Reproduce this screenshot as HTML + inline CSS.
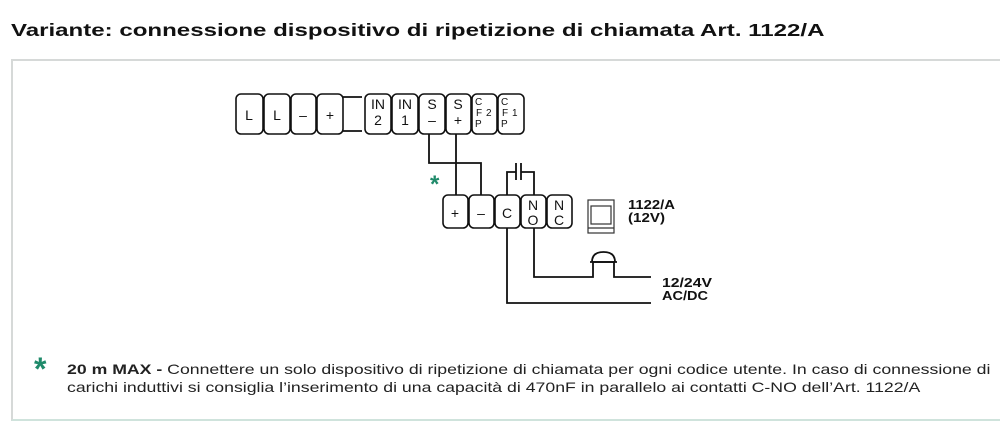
<!DOCTYPE html>
<html><head><meta charset="utf-8"><style>
body{margin:0;background:#fff;width:1000px;height:421px;overflow:hidden;position:relative;font-family:"Liberation Sans",Arial,sans-serif}
.t{position:absolute;left:11px;top:20px;font-size:17.5px;font-weight:bold;color:#111;white-space:nowrap;transform:scaleX(1.375);transform-origin:0 0}
.box{position:absolute;left:11px;top:59px;width:1000px;height:358px;border:2px solid #d6d9d8;border-right:none;border-bottom-color:#cfe3dc}
.ft{position:absolute;left:67px;top:361px;font-size:13.6px;color:#222;line-height:18px;white-space:nowrap;transform:scaleX(1.3);transform-origin:0 0}
.star{position:absolute;left:34px;top:351px;color:#1f8a6a;font-size:32px;font-weight:bold}
</style></head><body>
<div class="t">Variante: connessione dispositivo di ripetizione di chiamata Art. 1122/A</div>
<div class="box"></div>
<svg width="1000" height="421" style="position:absolute;left:0;top:0" font-family="Liberation Sans, Arial, sans-serif">
<g fill="#fff" stroke="#111" stroke-width="1.6">
<rect x="236" y="94" width="27" height="40" rx="5"/><rect x="264" y="94" width="26" height="40" rx="5"/>
<rect x="291" y="94" width="25" height="40" rx="5"/><rect x="317" y="94" width="26" height="40" rx="5"/>
<rect x="365" y="94" width="26" height="40" rx="5"/><rect x="392" y="94" width="26" height="40" rx="5"/>
<rect x="419" y="94" width="26" height="40" rx="5"/><rect x="446" y="94" width="25" height="40" rx="5"/>
<rect x="472" y="94" width="25" height="40" rx="5"/><rect x="498" y="94" width="26" height="40" rx="5"/>
<rect x="443" y="195" width="25" height="33" rx="5"/><rect x="469" y="195" width="25" height="33" rx="5"/>
<rect x="495" y="195" width="25" height="33" rx="5"/><rect x="521" y="195" width="25" height="33" rx="5"/>
<rect x="547" y="195" width="25" height="33" rx="5"/>
</g>
<g fill="none" stroke="#111" stroke-width="1.8">
<path d="M343 97H362M343 131H362"/>
<path d="M429 134V163H481V195M456 134V195"/>
<path d="M507 195V172H516M521 172H534V195M516 163V180M521 163V180"/>
<path d="M507 228V303H651M534 228V277H593V262H614V277H651"/>
<path d="M590 262H617M592 262Q592 252 603.5 252Q615 252 615 262"/>
</g>
<g fill="none" stroke="#333" stroke-width="1.2">
<rect x="588" y="200" width="26" height="33"/><rect x="591" y="206" width="20" height="18"/><path d="M588 228H614"/>
</g>
<g fill="#111" font-size="14" text-anchor="middle">
<text x="249" y="120">L</text><text x="277" y="120">L</text><text x="303" y="120">–</text><text x="330" y="120">+</text>
<text x="378" y="109">IN</text><text x="378" y="125">2</text><text x="405" y="109">IN</text><text x="405" y="125">1</text>
<text x="432" y="109">S</text><text x="432" y="125">–</text><text x="458" y="109">S</text><text x="458" y="125">+</text>
<text x="455" y="218">+</text><text x="481" y="218">–</text><text x="507" y="218">C</text>
<text x="533" y="210">N</text><text x="533" y="225">O</text><text x="559" y="210">N</text><text x="559" y="225">C</text>
</g>
<g fill="#111" font-size="10">
<text x="475" y="105">C</text><text x="476" y="116">F</text><text x="475" y="127">P</text><text x="486" y="116">2</text>
<text x="501" y="105">C</text><text x="502" y="116">F</text><text x="501" y="127">P</text><text x="512" y="116">1</text>
</g>
<text x="430" y="192" fill="#1f8a6a" font-size="24" font-weight="bold">*</text>
<g fill="#111" font-size="12.5" font-weight="bold">
<text x="628" y="209" textLength="47" lengthAdjust="spacingAndGlyphs">1122/A</text><text x="628" y="222" textLength="37" lengthAdjust="spacingAndGlyphs">(12V)</text>
<text x="662" y="287" textLength="50" lengthAdjust="spacingAndGlyphs">12/24V</text><text x="662" y="300" textLength="46" lengthAdjust="spacingAndGlyphs">AC/DC</text>
</g>
</svg>
<div class="star">*</div>
<div class="ft"><b>20 m MAX -</b> Connettere un solo dispositivo di ripetizione di chiamata per ogni codice utente. In caso di connessione di<br>carichi induttivi si consiglia l’inserimento di una capacità di 470nF in parallelo ai contatti C-NO dell’Art. 1122/A</div>
</body></html>
